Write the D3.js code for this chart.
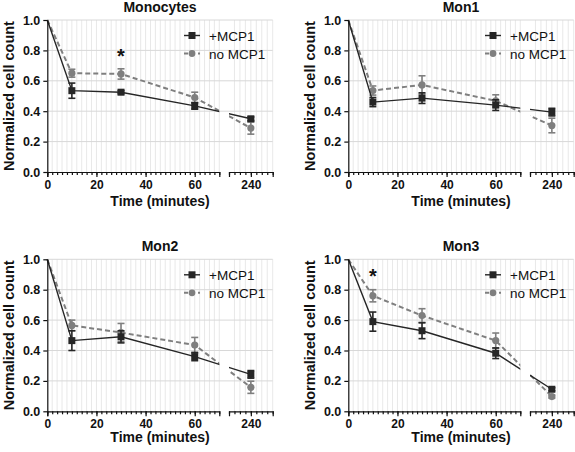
<!DOCTYPE html>
<html><head><meta charset="utf-8">
<script src="https://cdn.jsdelivr.net/npm/d3@7"></script>
<style>body{margin:0;background:#fff}svg{display:block;font-family:Arial,"Liberation Sans",sans-serif}</style>
</head><body>
<script>
// ---- data ----
const times = [0, 10, 30, 60, 240];
const panelTitles = ["Monocytes", "Mon1", "Mon2", "Mon3"];
const seriesNames = ["+MCP1", "no MCP1"];
const xMajorTicks1 = [0, 20, 40, 60];
const xMajorTicks2 = [240];
const yTicks = [0, 0.2, 0.4, 0.6, 0.8, 1.0];

const monocytesMcp    = [1, 0.535, 0.525, 0.435, 0.35];
const monocytesMcpErr = [0, 0.05, 0.01, 0.022, 0.012];
const monocytesNo     = [1, 0.65, 0.645, 0.49, 0.289];
const monocytesNoErr  = [0, 0.026, 0.034, 0.035, 0.04];

const mon1Mcp    = [1, 0.46, 0.486, 0.44, 0.394];
const mon1McpErr = [0, 0.03, 0.035, 0.035, 0.025];
const mon1No     = [1, 0.536, 0.573, 0.468, 0.306];
const mon1NoErr  = [0, 0.03, 0.06, 0.04, 0.048];

const mon2Mcp    = [1, 0.465, 0.49, 0.36, 0.243];
const mon2McpErr = [0, 0.065, 0.04, 0.027, 0.025];
const mon2No     = [1, 0.565, 0.518, 0.436, 0.158];
const mon2NoErr  = [0, 0.035, 0.06, 0.05, 0.04];

const mon3Mcp    = [1, 0.59, 0.53, 0.382, 0.145];
const mon3McpErr = [0, 0.063, 0.052, 0.035, 0.01];
const mon3No     = [1, 0.76, 0.63, 0.465, 0.097];
const mon3NoErr  = [0, 0.04, 0.045, 0.05, 0.01];

const sigTime = [30, null, null, 10];
const sigLevel = [0.79, null, null, 0.915];

// ---- layout ----
const W = 575, H = 452;
const origins = [[47.3, 20], [348.3, 20], [47.3, 259.3], [348.3, 259.3]];
const xLabelOffset = [34, 34, 31, 31];
const plotH = 152, w1 = 172, gapW = 9.7, w2 = 43.7;
const totalW = w1 + gapW + w2;
const colMcp = "#262626", colNo = "#7f7f7f";

const panelData = [
  [monocytesMcp, monocytesMcpErr, monocytesNo, monocytesNoErr],
  [mon1Mcp, mon1McpErr, mon1No, mon1NoErr],
  [mon2Mcp, mon2McpErr, mon2No, mon2NoErr],
  [mon3Mcp, mon3McpErr, mon3No, mon3NoErr]
];

const svg = d3.select("body").append("svg").attr("width", W).attr("height", H);

const x = d3.scaleLinear().domain([0, 70, 200, 280]).range([0, w1, w1 + gapW, totalW]);
const seg1 = d3.scaleLinear().domain([0, 70]).range([0, w1]);
const seg2 = d3.scaleLinear().domain([200, 280]).range([w1 + gapW, totalW]);
const y = d3.scaleLinear().domain([0, 1]).range([plotH, 0]);

panelTitles.forEach((title, pi) => {
  const [ox, oy] = origins[pi];
  const g = svg.append("g").attr("transform", `translate(${ox},${oy})`);
  const [mcp, mcpErr, no, noErr] = panelData[pi];

  const clipId = "clip" + pi;
  const cp = g.append("clipPath").attr("id", clipId);
  cp.append("rect").attr("x", -5).attr("y", -10).attr("width", w1 + 5).attr("height", plotH + 20);
  cp.append("rect").attr("x", w1 + gapW).attr("y", -10).attr("width", w2 + 10).attr("height", plotH + 20);

  // grid
  const grid = g.append("g");
  const vGrid = d3.range(2, 71, 2).map(seg1).concat(d3.range(210, 281, 10).map(seg2));
  grid.selectAll("line.v").data(vGrid).join("line")
    .attr("x1", d => d).attr("x2", d => d).attr("y1", 0).attr("y2", plotH)
    .attr("stroke", "#e2e2e2").attr("stroke-width", 0.8);
  grid.selectAll("line.h").data(yTicks.slice(1)).join("line")
    .attr("x1", 0).attr("x2", totalW).attr("y1", d => y(d)).attr("y2", d => y(d))
    .attr("stroke", "#d8d8d8").attr("stroke-width", 1);

  const series = [
    { vals: no, err: noErr, color: colNo, dash: "5,3", width: 2, shape: "circle" },
    { vals: mcp, err: mcpErr, color: colMcp, dash: null, width: 1.4, shape: "square" }
  ];

  const line = d3.line().x(d => x(d[0])).y(d => y(d[1]));

  series.forEach(s => {
    const pts = times.map((t, i) => [t, s.vals[i], s.err[i]]);
    g.append("path").attr("d", line(pts)).attr("fill", "none")
      .attr("stroke", s.color).attr("stroke-width", s.width)
      .attr("stroke-dasharray", s.dash).attr("clip-path", `url(#${clipId})`);
    const pp = pts.filter(d => d[0] > 0);
    const eg = g.append("g").attr("stroke", s.color).attr("stroke-width", 1.6);
    pp.forEach(d => {
      const cx = x(d[0]);
      eg.append("line").attr("x1", cx).attr("x2", cx).attr("y1", y(d[1] - d[2])).attr("y2", y(d[1] + d[2]));
      eg.append("line").attr("x1", cx - 3.5).attr("x2", cx + 3.5).attr("y1", y(d[1] - d[2])).attr("y2", y(d[1] - d[2]));
      eg.append("line").attr("x1", cx - 3.5).attr("x2", cx + 3.5).attr("y1", y(d[1] + d[2])).attr("y2", y(d[1] + d[2]));
    });
    if (s.shape === "circle") {
      g.selectAll(null).data(pp).join("circle")
        .attr("cx", d => x(d[0])).attr("cy", d => y(d[1])).attr("r", 3.6).attr("fill", s.color);
    } else {
      g.selectAll(null).data(pp).join("rect")
        .attr("x", d => x(d[0]) - 3.5).attr("y", d => y(d[1]) - 3.5)
        .attr("width", 7).attr("height", 7).attr("fill", s.color);
    }
  });

  // axes
  const axStyle = sel => {
    sel.selectAll("path,line").attr("stroke", "#111").attr("stroke-width", 1.2);
    sel.selectAll("text").attr("fill", "#111").attr("font-weight", "bold");
  };
  const yAx = g.append("g").call(d3.axisLeft(y).tickValues(yTicks).tickFormat(d3.format(".1f")).tickSize(4).tickSizeOuter(0).tickPadding(3));
  axStyle(yAx); yAx.selectAll("text").attr("font-size", 12.5);

  const xg = g.append("g").attr("transform", `translate(0,${plotH})`);
  [[seg1, d3.range(0, 71, 2), xMajorTicks1], [seg2, d3.range(200, 281, 10), xMajorTicks2]].forEach(([sc, minor, major]) => {
    const mi = xg.append("g").call(d3.axisBottom(sc).tickValues(minor).tickFormat("").tickSize(3));
    mi.select(".domain").remove();
    axStyle(mi);
    const ma = xg.append("g").call(d3.axisBottom(sc).tickValues(major).tickSize(5).tickSizeOuter(5).tickPadding(3));
    axStyle(ma); ma.selectAll("text").attr("font-size", 12);
  });

  // titles and labels
  g.append("text").attr("x", totalW / 2).attr("y", -8).attr("text-anchor", "middle")
    .attr("font-size", 14).attr("font-weight", "bold").attr("fill", "#111").text(title);
  g.append("text").attr("transform", `translate(-33,${plotH / 2}) rotate(-90)`).attr("text-anchor", "middle")
    .attr("font-size", 14.5).attr("font-weight", "bold").attr("fill", "#111").text("Normalized cell count");
  g.append("text").attr("x", totalW / 2).attr("y", plotH + xLabelOffset[pi]).attr("text-anchor", "middle")
    .attr("font-size", 14).attr("font-weight", "bold").attr("fill", "#111").text("Time (minutes)");

  // significance
  if (sigTime[pi] !== null) {
    g.append("text").attr("x", x(sigTime[pi])).attr("y", y(sigLevel[pi]) + 11).attr("text-anchor", "middle")
      .attr("font-size", 20).attr("font-weight", "bold").attr("fill", "#111").text("*");
  }

  // legend
  const lg = g.append("g").attr("transform", "translate(136.7,15.5)");
  [[colMcp, null, "square", 1.4], [colNo, "4,3", "circle", 2]].forEach(([c, dash, shape, sw], i) => {
    const r = lg.append("g").attr("transform", `translate(0,${i * 18})`);
    r.append("line").attr("x1", 0).attr("x2", 16).attr("stroke", c).attr("stroke-width", sw).attr("stroke-dasharray", dash);
    if (shape === "square") r.append("rect").attr("x", 4.5).attr("y", -3.5).attr("width", 7).attr("height", 7).attr("fill", c);
    else r.append("circle").attr("cx", 8).attr("r", 3.4).attr("fill", c);
    r.append("text").attr("x", 25).attr("y", 5).attr("font-size", 13.5).attr("fill", "#111").text(seriesNames[i]);
  });
});
</script>
</body></html>
